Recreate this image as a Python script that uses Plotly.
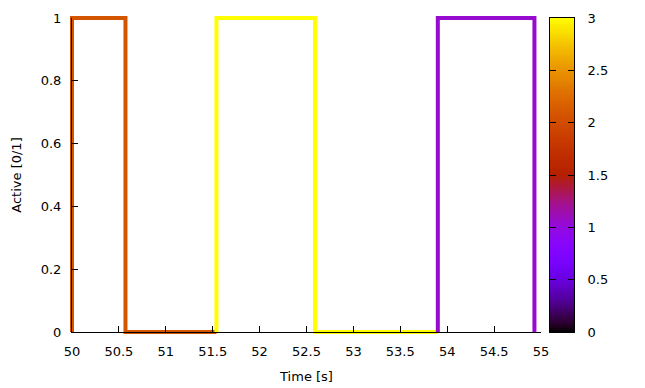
import math
import plotly.graph_objects as go

# Data
seg_x = [
    [50.0, 50.0, 50.57, 50.57, 51.54],
    [51.54, 51.54, 52.59, 52.59, 53.90],
    [53.90, 53.90, 54.93, 54.93],
]
seg_y = [
    [0, 1, 1, 0, 0],
    [0, 1, 1, 0, 0],
    [0, 1, 1, 0],
]
seg_val = [2.08, 3.0, 1.05]
cmin, cmax = 0.0, 3.0
x_range = [50, 55]
y_range = [0, 1]
x_ticks = [50, 50.5, 51, 51.5, 52, 52.5, 53, 53.5, 54, 54.5, 55]
y_ticks = [0, 0.2, 0.4, 0.6, 0.8, 1]
cb_ticks = [0, 0.5, 1, 1.5, 2, 2.5, 3]


def palette(t):
    # gnuplot default rgbformulae 7,5,15
    t = min(max(t, 0.0), 1.0)
    r = math.sqrt(t)
    g = t ** 3
    b = max(0.0, math.sin(2 * math.pi * t))
    return "rgb(%d,%d,%d)" % (round(r * 255), round(g * 255), round(b * 255))


colorscale = [[i / 40, palette(i / 40)] for i in range(41)]

FONT = "DejaVu Sans"
W, H = 645, 388
PX0, PX1 = 72, 541      # main plot left/right (px)
PY0, PY1 = 18, 332      # main plot top/bottom (px)
CB_X0, CB_X1 = 550, 574  # colour box
PAD = 8                  # unclipped overhang for the data lines

L, R = PX0 - PAD, W - CB_X1
T, B = PY0 - PAD, H - PY1 - PAD
PW = W - L - R
PH = H - T - B


def fx(px):
    return (px - L) / PW


def fy(py):
    return (H - B - py) / PH


main_xdom = [fx(PX0), fx(PX1)]
main_ydom = [fy(PY1), fy(PY0)]
cb_xdom = [fx(CB_X0), 1]
line_xdom = [0, fx(PX1 + PAD)]
line_ydom = [0, 1]
xpp = (x_range[1] - x_range[0]) / (PX1 - PX0)
ypp = (y_range[1] - y_range[0]) / (PY1 - PY0)
line_xrange = [x_range[0] - PAD * xpp, x_range[1] + PAD * xpp]
line_yrange = [y_range[0] - PAD * ypp, y_range[1] + PAD * ypp]

fig = go.Figure()

# data lines on an invisible, slightly larger subplot (so they are not clipped)
for xs, ys, v in zip(seg_x, seg_y, seg_val):
    fig.add_trace(go.Scatter(
        x=xs, y=ys, mode="lines",
        line=dict(color=palette((v - cmin) / (cmax - cmin)), width=4),
        showlegend=False, hoverinfo="skip",
    ))

# invisible carrier so the visible axes (x3/y3) render on top
fig.add_trace(go.Scatter(x=[None], y=[None], mode="lines", showlegend=False,
                         hoverinfo="skip", xaxis="x3", yaxis="y3"))

# colour box drawn as a heatmap gradient on its own axes
NSTEP = 150
edges = [cmin + (cmax - cmin) * i / NSTEP for i in range(NSTEP + 1)]
mids = [[(edges[i] + edges[i + 1]) / 2] for i in range(NSTEP)]
fig.add_trace(go.Heatmap(
    z=mids, x=[0, 1], y=edges, zmin=cmin, zmax=cmax,
    colorscale=colorscale, showscale=False, hoverinfo="skip",
    xaxis="x2", yaxis="y2",
))

fig.update_layout(
    width=W, height=H,
    margin=dict(l=L, r=R, t=T, b=B, autoexpand=False),
    paper_bgcolor="white", plot_bgcolor="rgba(0,0,0,0)",
    font=dict(family=FONT, size=13, color="black"),
    xaxis=dict(domain=line_xdom, range=line_xrange, anchor="y", visible=False,
               fixedrange=True),
    yaxis=dict(domain=line_ydom, range=line_yrange, anchor="x", visible=False,
               fixedrange=True),
    xaxis3=dict(
        domain=main_xdom, anchor="y3",
        range=x_range, tickvals=x_ticks, ticktext=[("%g" % v) for v in x_ticks],
        showline=True, linecolor="black", linewidth=1, mirror=False,
        ticks="inside", ticklen=6, tickcolor="black", ticklabelstandoff=7,
        showgrid=False, zeroline=False, automargin=False, fixedrange=True,
        title=dict(text="Time [s]", font=dict(family=FONT, size=13), standoff=14),
    ),
    yaxis3=dict(
        domain=main_ydom, anchor="x3",
        range=y_range, tickvals=y_ticks, ticktext=[("%g" % v) for v in y_ticks],
        showline=True, linecolor="black", linewidth=1, mirror=False,
        ticks="inside", ticklen=6, tickcolor="black", ticklabelstandoff=7,
        showgrid=False, zeroline=False, automargin=False, fixedrange=True,
        title=dict(text="Active [0/1]", font=dict(family=FONT, size=13), standoff=16),
    ),
    xaxis2=dict(
        domain=cb_xdom, range=[0, 1], anchor="y2",
        showticklabels=False, ticks="", showgrid=False, zeroline=False,
        showline=True, linecolor="black", linewidth=1, mirror=True,
        automargin=False, fixedrange=True,
    ),
    yaxis2=dict(
        domain=main_ydom, range=[cmin, cmax], anchor="x2", side="right",
        tickvals=cb_ticks, ticktext=[("%g" % v) for v in cb_ticks],
        ticks="inside", ticklen=6, tickcolor="black", ticklabelstandoff=10,
        showline=True, linecolor="black", linewidth=1, mirror="ticks",
        showgrid=False, zeroline=False, automargin=False, fixedrange=True,
    ),
)

fig.write_html("out.html", config={"displayModeBar": False},
               post_script="document.body.style.margin='0px';")
